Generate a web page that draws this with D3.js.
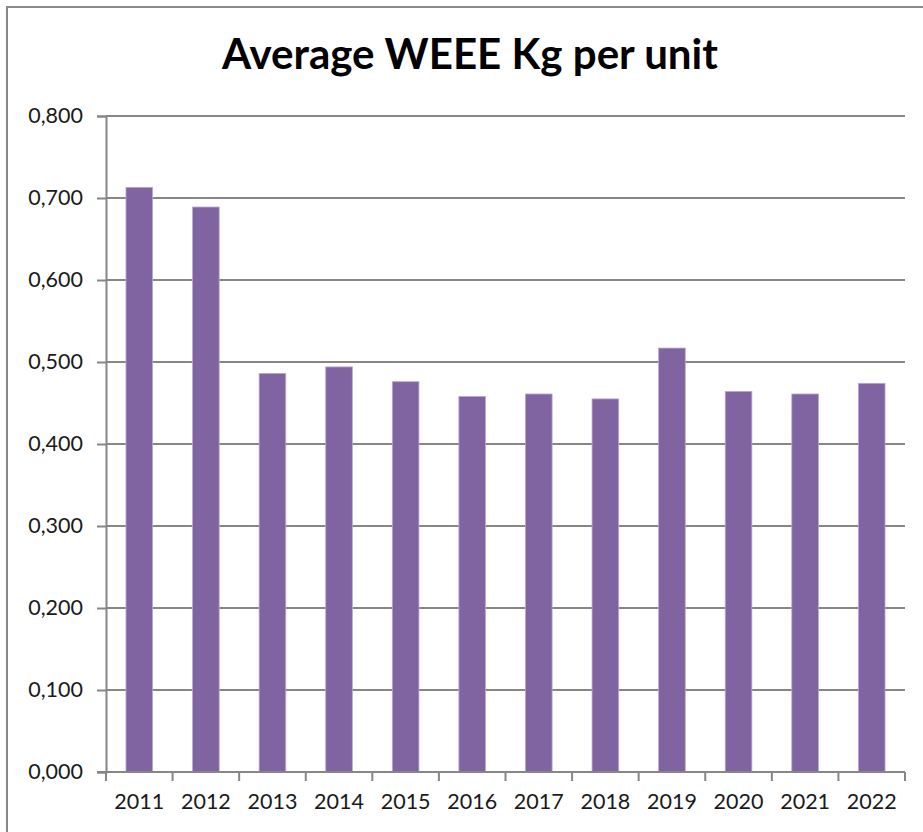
<!DOCTYPE html>
<html>
<head>
<meta charset="utf-8">
<script src="https://cdn.jsdelivr.net/npm/d3@7"></script>
<style>
  html, body { margin: 0; padding: 0; background: #fff; }
  svg { display: block; }
</style>
</head>
<body>
<svg id="chart" width="923" height="832"></svg>
<script>
const title = "Average WEEE Kg per unit";
const years = ["2011","2012","2013","2014","2015","2016","2017","2018","2019","2020","2021","2022"];
const values = [0.713, 0.689, 0.486, 0.494, 0.476, 0.458, 0.461, 0.455, 0.517, 0.464, 0.461, 0.474];
const yTicks = [0, 0.1, 0.2, 0.3, 0.4, 0.5, 0.6, 0.7, 0.8];

(function () {
const svg = d3.select("#chart");
const plotLeft = 106, plotRight = 905, plotTop = 116, plotBottom = 772;

// outer chart border
svg.append("rect")
  .attr("x", 7).attr("y", 7).attr("width", 940).attr("height", 860)
  .attr("fill", "none").attr("stroke", "#898989").attr("stroke-width", 2);

const x = d3.scaleBand().domain(years).range([plotLeft, plotRight]).paddingInner(0.6).paddingOuter(0.3);
const xb = d3.scaleBand().domain(years).range([plotLeft, plotRight]);
const y = d3.scaleLinear().domain([0, 0.8]).range([plotBottom, plotTop]);

const fmt = d => d3.format(".3f")(d).replace(".", ",");

// gridlines
svg.append("g").selectAll("line").data(yTicks.filter(d => d > 0)).join("line")
  .attr("x1", plotLeft).attr("x2", plotRight)
  .attr("y1", d => y(d)).attr("y2", d => y(d))
  .attr("stroke", "#868686").attr("stroke-width", 2);

// bars
svg.append("g").selectAll("rect").data(values).join("rect")
  .attr("x", (d, i) => x(years[i]))
  .attr("width", x.bandwidth())
  .attr("y", d => y(d))
  .attr("height", d => y(0) - y(d))
  .attr("fill", "#8064A2")
  .attr("stroke", "#B9A8D2").attr("stroke-width", 0.8);

// y axis
const yAxis = d3.axisLeft(y).tickValues(yTicks).tickFormat(fmt).tickSize(9).tickPadding(14);
const gy = svg.append("g").attr("transform", `translate(${plotLeft},0)`).call(yAxis);
gy.select(".domain").attr("stroke", "#868686").attr("stroke-width", 2);
gy.selectAll(".tick line").attr("stroke", "#868686").attr("stroke-width", 2);
gy.selectAll(".tick text").attr("font-family", "Lato, 'Open Sans', sans-serif")
  .attr("font-size", 21.5).attr("fill", "#1a1a1a");

// x axis
const xAxis = d3.axisBottom(xb).tickSize(0).tickPadding(22);
const gx = svg.append("g").attr("transform", `translate(0,${plotBottom})`).call(xAxis);
gx.select(".domain").remove();
gx.selectAll(".tick text").attr("font-family", "Lato, 'Open Sans', sans-serif")
  .attr("font-size", 21.5).attr("fill", "#1a1a1a");
// category separator ticks
svg.append("g").selectAll("line").data(d3.range(years.length + 1)).join("line")
  .attr("x1", i => plotLeft + i * xb.step()).attr("x2", i => plotLeft + i * xb.step())
  .attr("y1", plotBottom).attr("y2", plotBottom + 9)
  .attr("stroke", "#868686").attr("stroke-width", 2);
svg.append("line").attr("x1", plotLeft - 9).attr("x2", plotRight)
  .attr("y1", plotBottom).attr("y2", plotBottom)
  .attr("stroke", "#868686").attr("stroke-width", 2);

// title
const t = svg.append("text").text(title)
  .attr("x", 470).attr("y", 69)
  .attr("text-anchor", "middle")
  .attr("font-family", "Lato, 'Open Sans', sans-serif")
  .attr("font-weight", "bold")
  .attr("font-size", 38).attr("fill", "#000");
const w = t.node().getComputedTextLength();
t.attr("font-size", 38 * 496 / w);
})();
</script>
</body>
</html>
